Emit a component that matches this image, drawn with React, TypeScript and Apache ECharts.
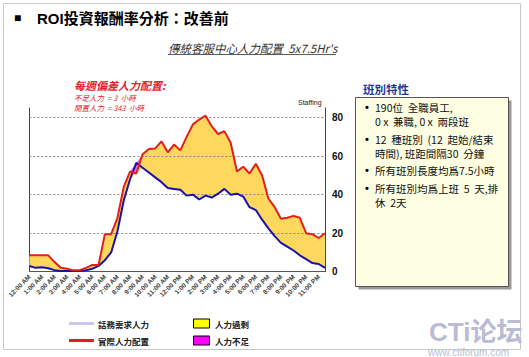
import React, { useEffect, useRef } from "react";
import * as echarts from "echarts";

const hourLabels = [
  "12:00 AM", "1:00 AM", "2:00 AM", "3:00 AM", "4:00 AM", "5:00 AM",
  "6:00 AM", "7:00 AM", "8:00 AM", "9:00 AM", "10:00 AM", "11:00 AM",
  "12:00 PM", "1:00 PM", "2:00 PM", "3:00 PM", "4:00 PM", "5:00 PM",
  "6:00 PM", "7:00 PM", "8:00 PM", "9:00 PM", "10:00 PM", "11:00 PM",
];
const categories = hourLabels.flatMap((h) => [h, h.replace(":00", ":30")]);

// 話務需求人力 (demand, blue)
const demand = [
  3, 2, 2.3, 1.8, 0.8, 0.4, 0.3, 0.3, 0.3, 0.7, 1.5, 3,
  6, 10, 21, 37, 48, 56.5, 54, 51.5, 49, 46.5, 43.5, 43,
  42.5, 39.5, 40, 37.5, 39.5, 38.5, 40.5, 43, 40, 40.5, 39, 33.5,
  32, 27, 22.5, 18.5, 15, 13, 11, 8.5, 6.5, 4.5, 4, 2,
];
// 實際人力配置 (staffing, red)
const staffing = [
  8.5, 8.5, 8.5, 8.5, 5, 2, 1.5, 0.7, 0.8, 2, 3.5, 3.5,
  19.5, 19.5, 28, 44, 52, 51, 61, 63.7, 64, 67.7, 62, 66,
  63, 70, 76.5, 79, 81, 75.5, 71.5, 73, 67, 52, 54.5, 51,
  56, 50, 38, 33.5, 27.5, 28, 29, 28, 20, 19.5, 17.5, 20,
];
const yTicks = [20, 40, 60, 80];

const boxLines = [
  { bullet: true, text: "190位  全職員工,", y: 107 },
  { bullet: false, text: "0 x  兼職, 0 x  兩段班", y: 121 },
  { bullet: true, text: "12  種班別  (12  起始/結束", y: 139 },
  { bullet: false, text: "時間), 班距間隔30  分鐘", y: 153 },
  { bullet: true, text: "所有班別長度均爲7.5小時", y: 170 },
  { bullet: true, text: "所有班別均爲上班  5  天,排", y: 188 },
  { bullet: false, text: "休  2天", y: 202 },
];

const SANS = "'Liberation Sans', 'Noto Sans CJK TC', sans-serif";
const CJK = "'Noto Sans CJK TC', 'Liberation Sans', sans-serif";

export default function App() {
  const ref = useRef<HTMLDivElement>(null);
  useEffect(() => {
    if (!ref.current) return;
    const chart = echarts.init(ref.current, undefined, { renderer: "svg" });
    const base = demand.map((d, i) => Math.min(d, staffing[i]));
    const surplus = demand.map((d, i) => Math.max(staffing[i] - d, 0));
    const shortage = demand.map((d, i) => Math.max(d - staffing[i], 0));

    const t = (text: string, x: number, y: number, font: string, fill: string, extra: any = {}) => ({
      type: "text",
      style: { text, x, y, font, fill, textVerticalAlign: "middle", ...extra },
      z: 10,
    });

    const graphic: any[] = [
      { type: "rect", shape: { x: 3.5, y: 3.5, width: 517, height: 346 }, style: { fill: "none", stroke: "#c8c8c8", lineWidth: 1 } },
      t("■", 14, 18, `bold 12px ${SANS}`, "#000"),
      t("ROI投資報酬率分析：改善前", 37, 18, `bold 15px ${SANS}`, "#000"),
      t("傳統客服中心人力配置  5x7.5Hr's", 168, 48, `italic 11.5px ${CJK}`, "#333"),
      { type: "line", shape: { x1: 168, y1: 54.5, x2: 336, y2: 54.5 }, style: { stroke: "#333", lineWidth: 0.8 } },
      t("每週偏差人力配置:", 74, 85, `italic bold 11px ${CJK}`, "#e8202a"),
      t("不足人力  = 3  小時", 74, 97.5, `italic 7.5px ${CJK}`, "#e8202a"),
      t("閒置人力  = 343  小時", 74, 107.5, `italic 7.5px ${CJK}`, "#e8202a"),
      t("Staffing", 298, 102, `7px ${SANS}`, "#222"),
      // right box
      t("班別特性", 363, 89, `bold 11.5px ${CJK}`, "#1f3a93"),
      { type: "rect", shape: { x: 358.5, y: 100.5, width: 153, height: 189 }, style: { fill: "#9a9a9a" } },
      { type: "rect", shape: { x: 355.5, y: 97.5, width: 153, height: 189 }, style: { fill: "#fefee2", stroke: "#555", lineWidth: 1 } },
      // legend
      { type: "line", shape: { x1: 69, y1: 323.5, x2: 94, y2: 323.5 }, style: { stroke: "#c8c8ee", lineWidth: 3 } },
      t("話務需求人力", 98, 323.5, `bold 8.5px ${CJK}`, "#222"),
      { type: "line", shape: { x1: 69, y1: 340.5, x2: 94, y2: 340.5 }, style: { stroke: "#e41e1e", lineWidth: 3 } },
      t("實際人力配置", 98, 340.5, `bold 8.5px ${CJK}`, "#222"),
      { type: "rect", shape: { x: 193.5, y: 319, width: 16, height: 9 }, style: { fill: "#ffff00", stroke: "#000", lineWidth: 1 } },
      t("人力過剩", 215, 323.5, `bold 8.5px ${CJK}`, "#222"),
      { type: "rect", shape: { x: 193.5, y: 336, width: 16, height: 9 }, style: { fill: "#ff00ff", stroke: "#000", lineWidth: 1 } },
      t("人力不足", 215, 340.5, `bold 8.5px ${CJK}`, "#222"),
      // watermark
      t("CTi论坛", 429, 331.5, `bold 26px ${SANS}`, "#b9bcd4"),
      t("www.ctiforum.com", 428, 352.5, `10px ${SANS}`, "#b9bcd4"),
    ];
    boxLines.forEach((l) => {
      if (l.bullet) graphic.push(t("•", 365, l.y, `bold 11px ${SANS}`, "#000"));
      graphic.push(t(l.text, 375, l.y, `10.5px ${CJK}`, "#111"));
    });

    const noLine = { opacity: 0 };
    chart.setOption({
      animation: false,
      grid: { left: 29.4, right: 204, top: 108, bottom: 85.3 },
      xAxis: {
        type: "category",
        data: categories,
        boundaryGap: false,
        axisLine: { lineStyle: { color: "#555", width: 1 } },
        axisTick: { show: false },
        axisLabel: { interval: 1, rotate: 45, fontSize: 6.5, color: "#444", margin: 4, fontFamily: SANS, fontWeight: "bold" },
      },
      yAxis: [
        {
          type: "value", position: "right", min: 0, max: 85, interval: 20,
          axisLine: { show: true, lineStyle: { color: "#444" } },
          axisTick: { show: false },
          splitLine: { show: false },
          axisLabel: { showMaxLabel: false, fontSize: 10, fontWeight: "bold", color: "#111", margin: 7, fontFamily: SANS },
        },
        {
          type: "value", position: "left", min: 0, max: 85, interval: 20,
          axisLine: { show: true, lineStyle: { color: "#444" } },
          axisTick: { show: false }, axisLabel: { show: false }, splitLine: { show: false },
        },
      ],
      graphic,
      series: [
        {
          type: "line", data: base, stack: "gap", symbol: "none", lineStyle: noLine, areaStyle: { opacity: 0 }, silent: true,
          markLine: {
            silent: true, symbol: "none", label: { show: false },
            lineStyle: { type: [2, 2], color: "#888", width: 1 },
            data: yTicks.map((v) => ({ yAxis: v })),
          },
        },
        { type: "line", data: surplus, stack: "gap", symbol: "none", lineStyle: noLine, areaStyle: { color: "#fdd85d", opacity: 1 } },
        { type: "line", data: shortage, stack: "gap", symbol: "none", lineStyle: noLine, areaStyle: { color: "#e070e0", opacity: 1 } },
        { type: "line", data: demand, symbol: "none", lineStyle: { color: "#1a12a6", width: 2 }, z: 5 },
        { type: "line", data: staffing, symbol: "none", lineStyle: { color: "#e41e1e", width: 2 }, z: 6 },
      ],
    });
    return () => chart.dispose();
  }, []);
  return <div ref={ref} style={{ position: "fixed", left: 0, top: 0, width: 529, height: 357, background: "#fff" }} />;
}
